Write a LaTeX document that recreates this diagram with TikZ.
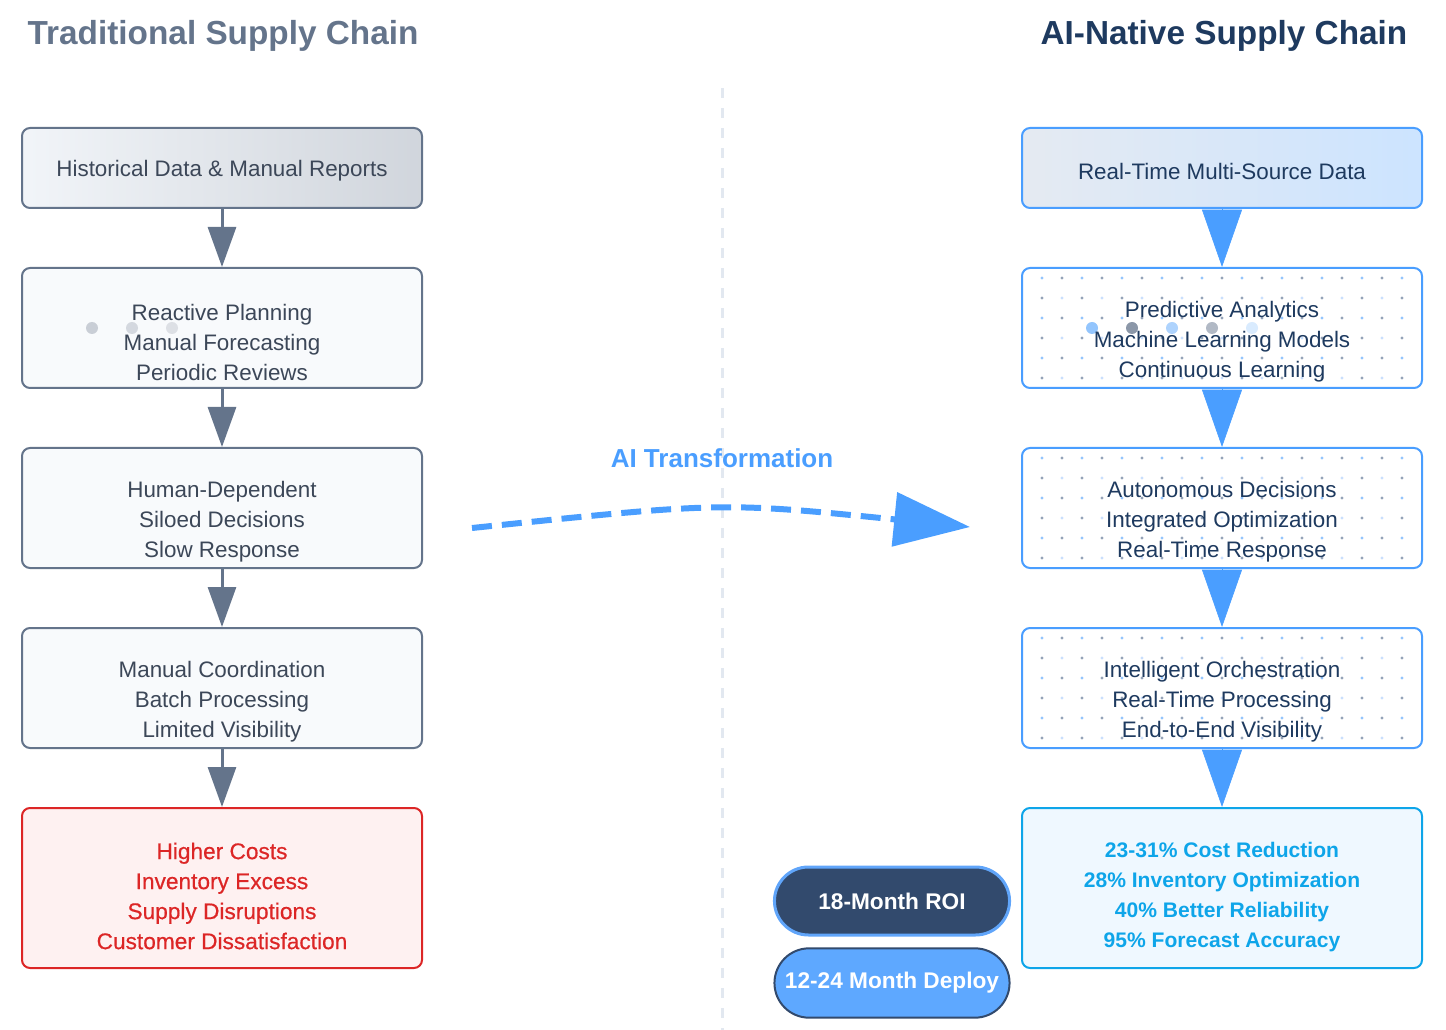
\documentclass[tikz,border=0pt]{standalone}
\usepackage{fontspec}
\setmainfont{Liberation Sans}
\newfontfamily\medfont[FakeBold=0.5]{Liberation Sans}
\usetikzlibrary{arrows.meta,shapes.misc}
\definecolor{slate}{HTML}{64748B}
\definecolor{oldtext}{HTML}{3C4758}
\definecolor{oldfill}{HTML}{F8FAFC}
\definecolor{navy}{HTML}{1E3A5F}
\definecolor{aiblue}{HTML}{4A9EFF}
\definecolor{sky}{HTML}{0EA5E9}
\definecolor{skyfill}{HTML}{EFF8FF}
\definecolor{alert}{HTML}{DC2626}
\definecolor{alertfill}{HTML}{FEF1F1}
\definecolor{pillnavy}{HTML}{324A6D}
\definecolor{pillblue}{HTML}{5EA8FF}
\definecolor{pillrim}{HTML}{60A5FA}
\definecolor{divider}{HTML}{E2E8F0}
\definecolor{dot0}{HTML}{93C5FD}
\definecolor{dot1}{HTML}{94A3B8}
\definecolor{dot2}{HTML}{94A3B8}
\definecolor{dot3}{HTML}{C9DFFD}
\tikzset{
  box_/.style       = {shape=rectangle, rounded corners=6pt, line width=1.5pt, minimum width=300pt},
  oldbox_/.style    = {box_, draw=slate, fill=oldfill},
  newbox_/.style    = {box_, draw=aiblue, fill=white},
  txt_/.style       = {align=center, font=\fontsize{16.8}{22.5}\selectfont},
  title_/.style     = {font=\fontsize{25}{30}\selectfont\bfseries},
  pill_/.style      = {shape=rounded rectangle, minimum width=183pt, minimum height=51pt, text=white,
                       font=\fontsize{17}{20}\selectfont\bfseries},
  oldarrow_/.style  = {draw=slate, line width=2.25pt, -{Triangle[length=30pt,width=21pt]}},
  newarrow_/.style  = {draw=aiblue, fill=aiblue, line width=0.5pt, -{Triangle[length=43pt,width=30pt]}}
}
\begin{document}
\begin{tikzpicture}
  [
  x = 0.75pt,
  y = -0.75pt
  ]
  \useasboundingbox (0,0) rectangle (1446,1030);
  \node [title_, text=slate, anchor=west] (oldtitle) at (23,36) {Traditional Supply Chain};
  \node [title_, text=navy, anchor=east] (newtitle) at (1412,36) {AI-Native Supply Chain};
  \draw [divider, line width=2.25pt, dash pattern=on 7.5pt off 7.5pt] (722,88) -- (722,1030);

  % traditional side
  \node [oldbox_, minimum height=60pt, fill=none, left color=oldfill!70!divider, right color=slate!30] (o1) at (222,168) {};
  \node [oldbox_, minimum height=90pt] (o2) at (222,328) {};
  \node [oldbox_, minimum height=90pt] (o3) at (222,508) {};
  \node [oldbox_, minimum height=90pt] (o4) at (222,688) {};
  \node [oldbox_, minimum height=120pt, draw=alert, fill=alertfill] (o5) at (222,888) {};
  \fill [slate!35] (92,328) circle (4.5pt);
  \fill [slate!28] (132,328) circle (4.5pt);
  \fill [slate!22] (172,328) circle (4.5pt);
  \node [txt_, text=oldtext] (o1txt) at (222,171) {Historical Data \& Manual Reports};
  \node [txt_, text=oldtext] (o2txt) at (222,342) {Reactive Planning\\Manual Forecasting\\Periodic Reviews};
  \node [txt_, text=oldtext] (o3txt) at (222,522) {Human-Dependent\\Siloed Decisions\\Slow Response};
  \node [txt_, text=oldtext] (o4txt) at (222,702) {Manual Coordination\\Batch Processing\\Limited Visibility};
  \node [txt_, text=alert, font=\fontsize{17}{22.5}\selectfont\medfont] (o5txt) at (222,896)
    {Higher Costs\\Inventory Excess\\Supply Disruptions\\Customer Dissatisfaction};
  \foreach \a/\b in {o1/o2, o2/o3, o3/o4, o4/o5}
    \draw [oldarrow_] (\a) -- (\b);

  % AI-native side
  \node [newbox_, minimum height=60pt, fill=none, left color=divider!90!white, right color=aiblue!28] (n1) at (1222,168) {};
  \node [newbox_, minimum height=90pt] (n2) at (1222,328) {};
  \node [newbox_, minimum height=90pt] (n3) at (1222,508) {};
  \node [newbox_, minimum height=90pt] (n4) at (1222,688) {};
  \node [newbox_, minimum height=120pt, draw=sky, fill=skyfill] (n5) at (1222,888) {};
  \foreach \yy in {268,448,628} {
    \foreach \y [evaluate=\y as \r using {int(mod((\y-10)/20,2))}] in {10,30,...,110} {
      \foreach \x [evaluate=\x as \c using {int(mod((\x-1042)/20,2)+2*\r)}] in {1042,1062,...,1402} {
        \fill [fill=dot\c] (\x,\yy+\y) circle (1.15pt);
      }
    }
  }
  \fill [dot0] (1092,328) circle (4.5pt);
  \fill [slate!75] (1132,328) circle (4.5pt);
  \fill [dot0!75] (1172,328) circle (4.5pt);
  \fill [slate!50] (1212,328) circle (4.5pt);
  \fill [dot0!35] (1252,328) circle (4.5pt);
  \node [txt_, text=navy] (n1txt) at (1222,171) {Real-Time Multi-Source Data};
  \node [txt_, text=navy] (n2txt) at (1222,342) {Predictive Analytics\\Machine Learning Models\\Continuous Learning};
  \node [txt_, text=navy] (n3txt) at (1222,522) {Autonomous Decisions\\Integrated Optimization\\Real-Time Response};
  \node [txt_, text=navy] (n4txt) at (1222,702) {Intelligent Orchestration\\Real-Time Processing\\End-to-End Visibility};
  \node [txt_, text=sky, font=\fontsize{15.8}{22.5}\selectfont\bfseries] (n5txt) at (1222,897)
    {23-31\% Cost Reduction\\28\% Inventory Optimization\\40\% Better Reliability\\95\% Forecast Accuracy};
  \foreach \a/\b in {n1/n2, n2/n3, n3/n4, n4/n5}
    \draw [newarrow_] (\a) -- (\b);

  % transformation
  \node [text=aiblue, font=\fontsize{19.5}{22}\selectfont\bfseries] (ailabel) at (722,458) {AI Transformation};
  \coordinate (aistart) at (472,528);
  \coordinate (aibend) at (722,502);
  \coordinate (aiend) at (970,527);
  \draw [aiblue, line width=4.5pt, dash pattern=on 15pt off 7.5pt, -{Triangle[length=57pt,width=40pt]}]
    (aistart) .. controls (aibend) .. (aiend);

  \node [pill_, fill=pillnavy, draw=pillrim, line width=2.25pt] (roi) at (892,901) {18-Month ROI};
  \node [pill_, fill=pillblue, draw=pillnavy, line width=1.5pt, minimum height=52pt] (deploy) at (892,983) {12-24 Month Deploy};
\end{tikzpicture}
\end{document}
